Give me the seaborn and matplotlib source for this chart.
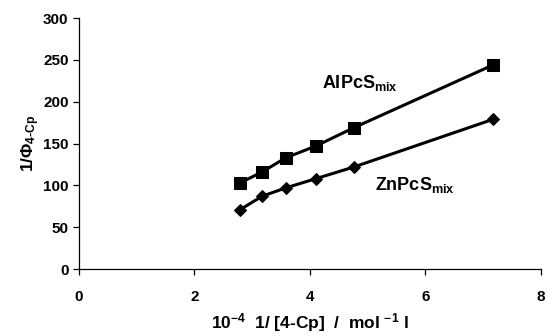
import matplotlib
matplotlib.use("Agg")
import matplotlib.pyplot as plt
import seaborn as sns
import pandas as pd

sns.set_theme(style="white")
plt.rcParams['font.family'] = ['Liberation Sans', 'DejaVu Sans']
plt.rcParams['mathtext.fontset'] = 'custom'
plt.rcParams['mathtext.rm'] = 'Liberation Sans:bold'
plt.rcParams['mathtext.bf'] = 'Liberation Sans:bold'
plt.rcParams['mathtext.it'] = 'Liberation Sans:bold'
plt.rcParams['text.color'] = 'black'
plt.rcParams['axes.labelcolor'] = 'black'
plt.rcParams['xtick.color'] = 'black'
plt.rcParams['ytick.color'] = 'black'

x_al = [2.79, 3.17, 3.58, 4.10, 4.76, 7.17]
y_al = [103, 116, 133, 147, 169, 244]
x_zn = [2.79, 3.17, 3.58, 4.10, 4.76, 7.17]
y_zn = [71, 87, 97, 108, 122, 179]

df_al = pd.DataFrame({"x": x_al, "y": y_al})
df_zn = pd.DataFrame({"x": x_zn, "y": y_zn})

fig = plt.figure(figsize=(5.47, 3.36), dpi=100)
ax = fig.add_axes([0.1444, 0.1994, 0.8446, 0.7466])

sns.lineplot(data=df_al, x="x", y="y", ax=ax, color="black", lw=2.2,
             marker="s", markersize=8, markeredgecolor="black")
sns.lineplot(data=df_zn, x="x", y="y", ax=ax, color="black", lw=2.2,
             marker="D", markersize=6.5, markeredgecolor="black")

ax.set_xlim(0, 8)
ax.set_ylim(0, 300)
ax.set_xticks([0, 2, 4, 6, 8])
ax.set_yticks([0, 50, 100, 150, 200, 250, 300])
for s in ["top", "right"]:
    ax.spines[s].set_visible(False)
for s in ["left", "bottom"]:
    ax.spines[s].set_color("black")
    ax.spines[s].set_linewidth(0.9)
ax.tick_params(axis="both", direction="out", length=4, width=0.9, color="black",
               labelsize=11, labelcolor="black", bottom=True, left=True)
for lab in ax.get_xticklabels() + ax.get_yticklabels():
    lab.set_fontweight("bold")
ax.tick_params(axis="x", pad=11)

ax.set_xlabel(r"10$^{-4}$  1/ [4-Cp]  /  mol $^{-1}$ l",
              fontsize=12.5, fontweight="bold", labelpad=5, color="black")
ax.set_ylabel(r"1/$\Phi_{4\text{-}Cp}$", fontsize=12.5, fontweight="bold",
              labelpad=1, color="black")

ax.text(4.2, 217, r"AlPcS$_{mix}$", fontsize=13, fontweight="bold", color="black")
ax.text(5.12, 94, r"ZnPcS$_{mix}$", fontsize=13, fontweight="bold", color="black")

fig.savefig("out.png", dpi=100)
